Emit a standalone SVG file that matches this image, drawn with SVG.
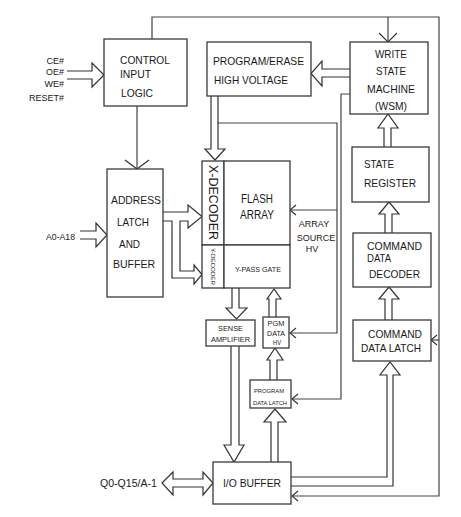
<svg xmlns="http://www.w3.org/2000/svg" width="461" height="517" viewBox="0 0 461 517">
<style>
.box{fill:#fff;stroke:#3a3a3a;stroke-width:1.3}
.ln{fill:none;stroke:#444;stroke-width:1.2}
.ha{fill:#fff;stroke:#333;stroke-width:1.2;stroke-linejoin:miter}
text{font-family:"Liberation Sans",Arial,sans-serif;fill:#1a1a1a}
.t11{font-size:11px}
.t9{font-size:9px}
.t8{font-size:8px}
.t6{font-size:6px}
.t12{font-size:12px}
.m{text-anchor:middle}
.e{text-anchor:end}
</style>
<defs>
<marker id="vs" markerUnits="userSpaceOnUse" markerWidth="8" markerHeight="12" refX="6" refY="5" orient="auto" overflow="visible">
<path d="M0,0 L6,5 L0,10" fill="none" stroke="#333" stroke-width="1.1"/>
</marker>
<marker id="vl" markerUnits="userSpaceOnUse" markerWidth="12" markerHeight="28" refX="9" refY="12" orient="auto" overflow="visible">
<path d="M0,0 L9,12 L0,24" fill="none" stroke="#333" stroke-width="1.2"/>
</marker>
<marker id="vm" markerUnits="userSpaceOnUse" markerWidth="12" markerHeight="22" refX="9" refY="9" orient="auto" overflow="visible">
<path d="M0,0 L9,9 L0,18" fill="none" stroke="#333" stroke-width="1.2"/>
</marker>
</defs>
<g id="connectors">
<path class="ln" d="M152,39 V17 H439 V496 H292" marker-end="url(#vs)"/>
<path class="ln" d="M388,17 V42" marker-end="url(#vm)"/>
<path class="ln" d="M439,340 H431" marker-end="url(#vs)"/>
<path class="ln" d="M137,106 V169" marker-end="url(#vl)"/>
<path class="ln" d="M218,123 H337 V333 H290" marker-end="url(#vs)"/>
<path class="ln" d="M337,210 H290" marker-end="url(#vs)"/>
<path class="ln" d="M350,94 H341 V399 H292" marker-end="url(#vs)"/>
<path class="ha" d="M67,71 H92 V63 L104,75 L92,87 V79 H67"/>
<path class="ha" d="M80,231 H96 V223 L107,235 L96,247 V239 H80"/>
<path class="ha" d="M163,212 H188 V205 L202,216.5 L188,228 V221 H180 V271 H194 V265 L202,274.5 L194,284 V278 H172 V221 H163"/>
<path class="ha" d="M211,96 V149 H205 L215,160 L225,149 H218 V96"/>
<path class="ha" d="M350,69 H322 V61 L311,73.5 L322,86 V77 H350"/>
<path class="ha" d="M384,147 V128 H378 L388,114 L398,128 H391 V147"/>
<path class="ha" d="M385,233 V214 H379 L389,202 L399,214 H392 V233"/>
<path class="ha" d="M385,320 V299 H379 L389,287 L399,299 H392 V320"/>
<path class="ha" d="M291,477 H387 V375 H380 L390,362 L400,375 H393 V486 H291"/>
<path class="ha" d="M232,288 V308 H226 L236.5,319 L247,308 H239 V288"/>
<path class="ha" d="M269,317 V299 H267 L274,289 L281,299 H276 V317"/>
<path class="ha" d="M270,380 V360 H267 L275,348 L283,360 H277 V380"/>
<path class="ha" d="M271,462 V422 H264 L275,409 L286,422 H278 V462"/>
<path class="ha" d="M231,346 V445 H224 L234,462 L244,445 H239 V346"/>
<path class="ha" d="M162,483 L173,472 V479 H203 V472 L213,483 L203,495 V487 H173 V495 Z"/>
</g>
<g id="signals">
<text class="t9 e" x="64" y="63.5">CE#</text>
<text class="t9 e" x="64" y="74.5">OE#</text>
<text class="t9 e" x="64" y="86.5">WE#</text>
<text class="t9 e" x="64" y="100.5">RESET#</text>
<text class="t9" x="46" y="239.5" textLength="29" lengthAdjust="spacingAndGlyphs">A0-A18</text>
<text class="t11" x="100" y="487" textLength="57" lengthAdjust="spacingAndGlyphs">Q0-Q15/A-1</text>
<text class="t9 m" x="314" y="226.5">ARRAY</text>
<text class="t9 m" x="316" y="240.5">SOURCE</text>
<text class="t9 m" x="312" y="251.5">HV</text>
</g>
<g id="control-input-logic">
<rect class="box" x="104" y="39" width="83" height="67"/>
<text class="t11" x="120" y="63.5" textLength="50" lengthAdjust="spacingAndGlyphs">CONTROL</text>
<text class="t11" x="120" y="77.5" textLength="31" lengthAdjust="spacingAndGlyphs">INPUT</text>
<text class="t11" x="121" y="96.5" textLength="32" lengthAdjust="spacingAndGlyphs">LOGIC</text>
</g>
<g id="program-erase-hv">
<rect class="box" x="207" y="42" width="104" height="54"/>
<text class="t11" x="213" y="64.5" textLength="91" lengthAdjust="spacingAndGlyphs">PROGRAM/ERASE</text>
<text class="t11" x="214" y="83.5" textLength="74" lengthAdjust="spacingAndGlyphs">HIGH VOLTAGE</text>
</g>
<g id="wsm">
<rect class="box" x="350" y="42" width="78" height="72"/>
<text class="t11 m" x="391" y="57.5" textLength="32" lengthAdjust="spacingAndGlyphs">WRITE</text>
<text class="t11 m" x="391" y="74.5" textLength="30" lengthAdjust="spacingAndGlyphs">STATE</text>
<text class="t11 m" x="391" y="92.5" textLength="48" lengthAdjust="spacingAndGlyphs">MACHINE</text>
<text class="t11 m" x="391" y="109.5" textLength="32" lengthAdjust="spacingAndGlyphs">(WSM)</text>
</g>
<g id="state-register">
<rect class="box" x="352" y="147" width="77" height="55"/>
<text class="t11" x="364" y="167.5" textLength="30" lengthAdjust="spacingAndGlyphs">STATE</text>
<text class="t11" x="364" y="186.5" textLength="52" lengthAdjust="spacingAndGlyphs">REGISTER</text>
</g>
<g id="command-data-decoder">
<rect class="box" x="353" y="233" width="78" height="54"/>
<text class="t11" x="367" y="249.5" textLength="55" lengthAdjust="spacingAndGlyphs">COMMAND</text>
<text class="t11" x="367" y="261.5" textLength="24" lengthAdjust="spacingAndGlyphs">DATA</text>
<text class="t11" x="369" y="277.5" textLength="51" lengthAdjust="spacingAndGlyphs">DECODER</text>
</g>
<g id="command-data-latch">
<rect class="box" x="353" y="320" width="78" height="41"/>
<text class="t11" x="368" y="337.5" textLength="54" lengthAdjust="spacingAndGlyphs">COMMAND</text>
<text class="t11" x="361" y="351.5" textLength="60" lengthAdjust="spacingAndGlyphs">DATA LATCH</text>
</g>
<g id="address-latch-buffer">
<rect class="box" x="107" y="169" width="56" height="128"/>
<text class="t11" x="111" y="203.5" textLength="50" lengthAdjust="spacingAndGlyphs">ADDRESS</text>
<text class="t11" x="117" y="225.5" textLength="32" lengthAdjust="spacingAndGlyphs">LATCH</text>
<text class="t11" x="119" y="247.5" textLength="21" lengthAdjust="spacingAndGlyphs">AND</text>
<text class="t11" x="113" y="267.5" textLength="42" lengthAdjust="spacingAndGlyphs">BUFFER</text>
</g>
<g id="x-decoder">
<rect class="box" x="202" y="161" width="22" height="84"/>
<text class="t12 m" transform="translate(209,202.5) rotate(90)" x="0" y="0" textLength="75" lengthAdjust="spacingAndGlyphs">X-DECODER</text>
</g>
<g id="y-decoder">
<rect class="box" x="202" y="245" width="22" height="43"/>
<text class="m" style="font-size:5.5px" transform="translate(211,266.5) rotate(90)" x="0" y="0" textLength="37" lengthAdjust="spacingAndGlyphs">Y-DECODER</text>
</g>
<g id="flash-array">
<rect class="box" x="224" y="161" width="66" height="84"/>
<text class="t12 m" x="257" y="202.5" textLength="32" lengthAdjust="spacingAndGlyphs">FLASH</text>
<text class="t12 m" x="257" y="218.5" textLength="34" lengthAdjust="spacingAndGlyphs">ARRAY</text>
</g>
<g id="y-pass-gate">
<rect class="box" x="224" y="245" width="66" height="43"/>
<text class="t8 m" x="258" y="272" textLength="46" lengthAdjust="spacingAndGlyphs">Y-PASS GATE</text>
</g>
<g id="sense-amplifier">
<rect class="box" x="206" y="320" width="49" height="26"/>
<text class="t8 m" x="230.5" y="331" textLength="25" lengthAdjust="spacingAndGlyphs">SENSE</text>
<text class="t8 m" x="230.5" y="341.5" textLength="39" lengthAdjust="spacingAndGlyphs">AMPLIFIER</text>
</g>
<g id="pgm-data-hv">
<rect class="box" x="263" y="317" width="26" height="31"/>
<text class="t8 m" x="276" y="325.5" textLength="17" lengthAdjust="spacingAndGlyphs">PGM</text>
<text class="t8 m" x="276" y="335.5" textLength="18" lengthAdjust="spacingAndGlyphs">DATA</text>
<text class="t8 m" x="277" y="345" textLength="8" lengthAdjust="spacingAndGlyphs">HV</text>
</g>
<g id="program-data-latch">
<rect class="box" x="250" y="380" width="41" height="28"/>
<text class="t6" x="254" y="392.5" textLength="30" lengthAdjust="spacingAndGlyphs">PROGRAM</text>
<text class="t6" x="253" y="404.5" textLength="34" lengthAdjust="spacingAndGlyphs">DATA LATCH</text>
</g>
<g id="io-buffer">
<rect class="box" x="213" y="462" width="78" height="42"/>
<text class="t11 m" x="252" y="487" textLength="58" lengthAdjust="spacingAndGlyphs">I/O BUFFER</text>
</g>
</svg>
